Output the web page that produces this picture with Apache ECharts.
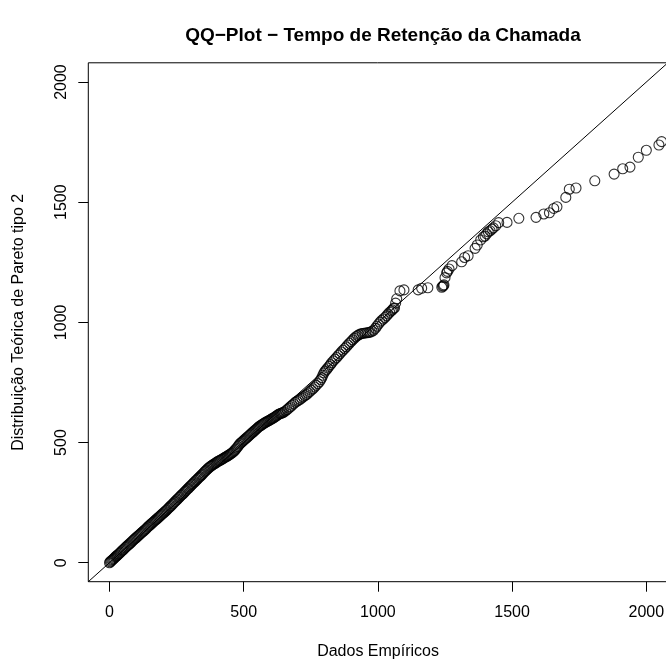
<!DOCTYPE html>
<html>
<head>
<meta charset="utf-8">
<script src="https://cdn.jsdelivr.net/npm/echarts@6/dist/echarts.min.js"></script>
<style>html,body{margin:0;padding:0;background:#fff}#c{width:666px;height:662px}</style>
</head>
<body>
<div id="c"></div>
<script>
var dadosEmpiricos = [
0,3,6,9,12,15,18,21,24,27,30,34,38,42,46,50,54,58,62,66,70,74,78,82,86,90,94,98,102,106,110,114,118,122,126,130,134,138,142,146,150,154,158,162,166,170,174,178,182,186,190,194,198,202,206,210,214,218,222,226,230,234,238,242,246,250,254,258,262,266,270,274,278,282,286,290,294,298,302,306,310,314,318,322,326,330,334,338,342,346,350,354,358,362,366,370,374,378,382,386,390,394,398,402,406,410,414,418,422,426,430,434,438,442,446,450,454,458,462,466,470,474,478,482,486,490,494,498,502,506,510,514,518,522,526,530,534,538,542,546,550,554,558,562,566,570,574,578,582,586,590,594,598,602,606,610,614,618,622,626,630,634,638,642,646,650,
656,662,668,674,680,686,692,698,704,710,716,722,728,734,740,746,752,758,764,770,776,782,787,791,795,799,803,808,813,818,823,828,834,840,846,852,858,864,870,876,882,888,894,900,906,912,918,924,930,936,942,948,954,960,966,972,978,984,990,996,1002,1008,1014,1020,1026,1032,1038,1044,1050,1054,1058,1062,
1066,1070,1082,1097,1150,1163,1186,1238,1241,1244,1246,1250,1256,1259,1265,1276,1312,1323,1336,1362,1370,1383,1393,1399,1405,1411,1418,1425,1430,1439,1450,1481,1525,1589,1618,1639,1655,1667,1700,1713,1738,1808,1880,1912,1939,1970,2000,2047,2057
];
var teoricaPareto2 = [
0,4,7,10,13,16,19,23,26,29,32,36,40,44,49,53,57,62,66,70,74,78,82,86,91,95,99,103,107,111,115,119,123,127,131,135,139,143,148,152,156,160,164,168,172,176,180,184,188,192,196,200,204,208,212,216,220,225,229,234,238,243,247,252,256,261,265,270,274,279,283,287,292,297,301,306,310,315,319,324,328,333,337,342,346,351,355,359,364,368,373,378,382,386,391,395,399,402,405,408,411,414,417,420,423,425,427,430,432,435,438,441,443,446,449,452,455,458,462,467,472,477,483,489,495,499,503,507,511,515,519,523,527,531,535,539,543,547,551,555,559,563,567,570,573,576,579,582,584,587,589,591,594,597,600,602,605,608,611,614,617,620,621,623,625,627,
632,637,643,649,655,661,667,672,676,680,685,690,695,700,706,712,718,724,731,738,745,753,762,770,780,790,797,803,810,817,824,832,840,847,854,862,869,877,884,891,898,906,913,920,927,934,940,945,949,952,954,955,956,957,958,960,963,967,975,984,993,1001,1008,1014,1020,1027,1035,1042,1048,1052,1058,1060,
1080,1098,1131,1135,1135,1142,1144,1146,1150,1152,1156,1186,1206,1212,1222,1236,1252,1270,1277,1308,1322,1343,1356,1359,1368,1377,1381,1388,1393,1402,1415,1416,1433,1437,1451,1456,1474,1481,1520,1554,1559,1589,1617,1639,1646,1687,1716,1738,1752
];
var tickValues = [0, 500, 1000, 1500, 2000];
var axisMin = -79, axisMax = 2080;
var refLine = [[-79, -79], [2080, 2080]];

var pts = dadosEmpiricos.map(function (x, i) { return [x, teoricaPareto2[i]]; });
var FONT = '"Liberation Sans", Arial, Helvetica, sans-serif';
function plain(v) { return String(v); }

var chart = echarts.init(document.getElementById('c'), null, { renderer: 'canvas' });
chart.setOption({
  animation: false,
  backgroundColor: '#ffffff',
  title: {
    text: 'QQ\u2212Plot \u2212 Tempo de Retenção da Chamada',
    left: 378, top: 21, textAlign: 'center',
    textStyle: { fontFamily: FONT, fontSize: 19, fontWeight: 'bold', color: '#000' }
  },
  grid: {
    left: 88.3, top: 62.8, width: 579.5, height: 518.9,
    show: true, borderColor: '#000', borderWidth: 1, backgroundColor: 'transparent',
    containLabel: false, outerBoundsMode: 'none'
  },
  xAxis: {
    type: 'value', min: axisMin, max: axisMax,
    name: 'Dados Empíricos', nameLocation: 'middle', nameGap: 62,
    nameTextStyle: { fontFamily: FONT, fontSize: 16, color: '#000' },
    axisLine: { show: false, onZero: false },
    splitLine: { show: false },
    axisTick: { show: true, length: 10, inside: false, customValues: tickValues, lineStyle: { color: '#000', width: 1 } },
    axisLabel: { show: true, margin: 23, customValues: tickValues, formatter: plain, fontFamily: FONT, fontSize: 16, color: '#000' }
  },
  yAxis: {
    type: 'value', min: axisMin, max: axisMax,
    name: 'Distribuição Teórica de Pareto tipo 2', nameLocation: 'middle', nameGap: 62, nameRotate: 90,
    nameTextStyle: { fontFamily: FONT, fontSize: 16, color: '#000' },
    axisLine: { show: false, onZero: false },
    splitLine: { show: false },
    axisTick: { show: true, length: 10, inside: false, customValues: tickValues, lineStyle: { color: '#000', width: 1 } },
    axisLabel: { show: true, margin: 19, rotate: 90, customValues: tickValues, formatter: plain, fontFamily: FONT, fontSize: 16, color: '#000' }
  },
  series: [
    {
      type: 'line', data: refLine, showSymbol: false, symbol: 'none', silent: true,
      lineStyle: { color: '#000', width: 1 }, clip: true, z: 1
    },
    {
      type: 'scatter', data: pts, symbol: 'circle', symbolSize: 10, silent: true,
      itemStyle: { color: 'rgba(0,0,0,0)', borderColor: '#000', borderWidth: 1.1 }, z: 2
    }
  ]
});
</script>
</body>
</html>
